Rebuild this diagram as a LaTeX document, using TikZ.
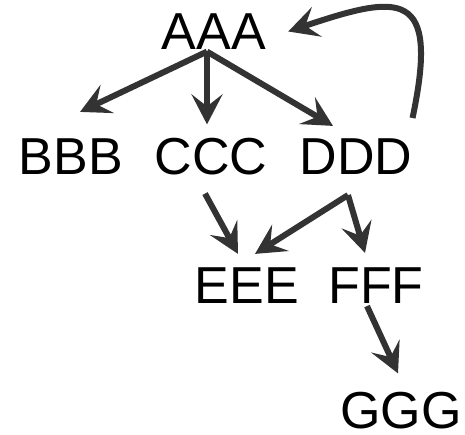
\documentclass[tikz,border=0pt]{standalone}
\usepackage{fontspec}
\setmainfont{Liberation Sans}
\usepackage{tikz}
\usetikzlibrary{arrows.meta}
\definecolor{arrowgray}{HTML}{333333}

\begin{document}
\begin{tikzpicture}[x=1pt,y=-1pt,
  word/.style={inner sep=0pt,font=\fontsize{52}{52}\selectfont},
  link/.style={draw=arrowgray,line width=6pt,
    -{Stealth[length=30pt,width=31pt,inset=12pt]}}]
  \useasboundingbox(0,0) rectangle (465,435);
  \node[word](aaa) at (214,31.5){AAA};
  \node[word](bbb) at (71,157){BBB};
  \node[word](ccc) at (211,157){CCC};
  \node[word](ddd) at (356,157){DDD};
  \node[word](eee) at (247,286){EEE};
  \node[word](fff) at (376,286){FFF};
  \node[word](ggg) at (401,411){GGG};
  \coordinate(afork) at ([xshift=-7pt,yshift=-2pt]aaa.south);
  \coordinate(dfork) at ([xshift=-8pt,yshift=-20pt]ddd.south);
  \draw[link](afork) -- ([xshift=9pt,yshift=27pt]bbb.north);
  \draw[link](afork) -- ([xshift=-4pt,yshift=14pt]ccc.north);
  \draw[link](afork) -- ([xshift=-23pt,yshift=13pt]ddd.north);
  \draw[link]([yshift=39pt]ddd.east) .. controls (440,-12) and (400,-6) .. ([xshift=22pt]aaa.east);
  \draw[link]([xshift=-6pt,yshift=-18pt]ccc.south) -- ([xshift=-9pt,yshift=14pt]eee.north);
  \draw[link](dfork) -- ([xshift=8pt,yshift=14pt]eee.north);
  \draw[link](dfork) -- ([xshift=-11pt,yshift=15pt]fff.north);
  \draw[link]([xshift=-9pt,yshift=-2pt]fff.south) -- ([xshift=-3pt,yshift=19pt]ggg.north);
\end{tikzpicture}
\end{document}
